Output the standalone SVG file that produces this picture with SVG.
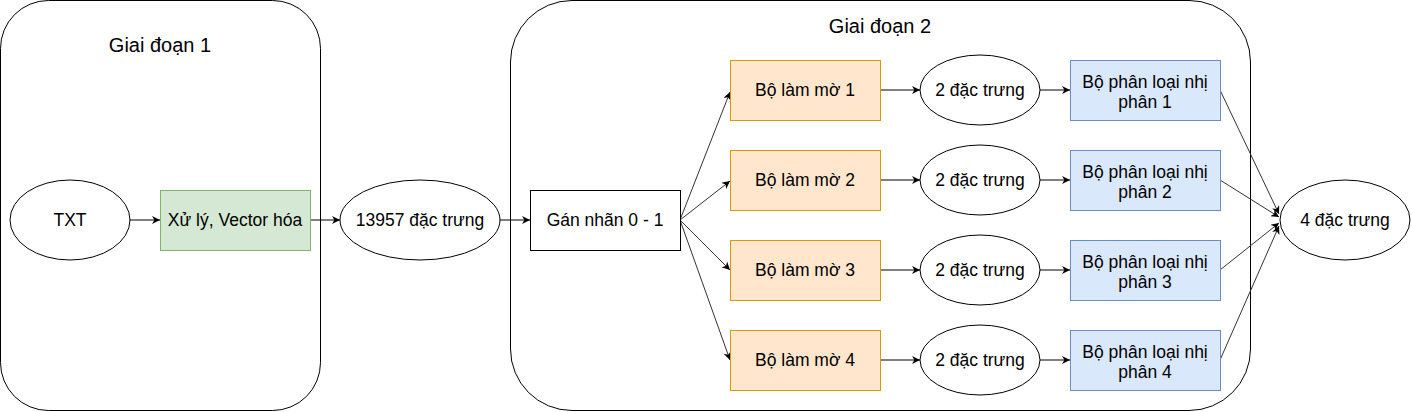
<svg xmlns="http://www.w3.org/2000/svg" width="1412" height="412" viewBox="0 0 1412 412">
<style>
  text { font-family: "Liberation Sans", Arial, sans-serif; fill: #000; text-anchor: middle; }
  .t { font-size: 17.5px; }
  .title { font-size: 20px; }
  .plain { fill: #fff; stroke: #000; stroke-width: 1; }
  .green { fill: #d5e8d4; stroke: #82b366; stroke-width: 1; }
  .orange { fill: #ffe6cc; stroke: #d79b00; stroke-width: 1; }
  .blue { fill: #dae8fc; stroke: #6c8ebf; stroke-width: 1; }
  .edge { fill: none; stroke: #000; stroke-width: 1; marker-end: url(#arrow); }
  .edge2 { fill: none; stroke: #333; stroke-width: 1; marker-end: url(#arrow); }
</style>
<defs>
  <marker id="arrow" viewBox="0 0 10 10" refX="10" refY="5" markerUnits="userSpaceOnUse" markerWidth="9" markerHeight="8" orient="auto">
    <path d="M0,0 L10,5 L0,10 L3,5 z" fill="#000"/>
  </marker>
</defs>
<rect width="1412" height="412" fill="#fff"/>
<g id="stage1">
  <rect x="0.5" y="0.5" width="320" height="410" rx="48" ry="48" class="plain"/>
  <text x="160" y="52" class="title">Giai đoạn 1</text>
</g>
<g id="stage2">
  <rect x="510.5" y="0.5" width="740" height="410" rx="61.5" ry="61.5" class="plain"/>
  <text x="880" y="33" class="title">Giai đoạn 2</text>
</g>
<g id="connectors">
  <path class="edge" d="M130,220 L160,220"/>
  <path class="edge" d="M310,220 L340,220"/>
  <path class="edge" d="M500,220 L530,220"/>
  <path class="edge2" d="M680,220 L730,92"/>
  <path class="edge2" d="M680,220 L730,181"/>
  <path class="edge2" d="M680,220 L730,270"/>
  <path class="edge2" d="M680,220 L730,360"/>
  <path class="edge" d="M880,90 L920,90"/>
  <path class="edge" d="M880,180 L920,180"/>
  <path class="edge" d="M880,270 L920,270"/>
  <path class="edge" d="M880,360 L920,360"/>
  <path class="edge" d="M1040,90 L1070,90"/>
  <path class="edge" d="M1040,180 L1070,180"/>
  <path class="edge" d="M1040,270 L1070,270"/>
  <path class="edge" d="M1040,360 L1070,360"/>
  <path class="edge2" d="M1220,90 L1279,214"/>
  <path class="edge2" d="M1220,180 L1279,217"/>
  <path class="edge2" d="M1220,270 L1279,223"/>
  <path class="edge2" d="M1220,360 L1279,226"/>
</g>
<g id="txt">
  <ellipse cx="70" cy="220" rx="60" ry="40" class="plain"/>
  <text x="70" y="226" class="t">TXT</text>
</g>
<g id="vectorize">
  <rect x="160.5" y="190.5" width="150" height="60" class="green"/>
  <text x="235" y="226" class="t">Xử lý, Vector hóa</text>
</g>
<g id="features13957">
  <ellipse cx="420" cy="220" rx="80" ry="40" class="plain"/>
  <text x="420" y="226" class="t">13957 đặc trưng</text>
</g>
<g id="label01">
  <rect x="530.5" y="190.5" width="150" height="60" class="plain"/>
  <text x="605" y="226" class="t">Gán nhãn 0 - 1</text>
</g>
<g id="blur1">
  <rect x="730.5" y="60.5" width="150" height="60" class="orange"/>
  <text x="805" y="96" class="t">Bộ làm mờ 1</text>
</g>
<g id="blur2">
  <rect x="730.5" y="150.5" width="150" height="60" class="orange"/>
  <text x="805" y="186" class="t">Bộ làm mờ 2</text>
</g>
<g id="blur3">
  <rect x="730.5" y="240.5" width="150" height="60" class="orange"/>
  <text x="805" y="276" class="t">Bộ làm mờ 3</text>
</g>
<g id="blur4">
  <rect x="730.5" y="330.5" width="150" height="60" class="orange"/>
  <text x="805" y="366" class="t">Bộ làm mờ 4</text>
</g>
<g id="feat1">
  <ellipse cx="980" cy="90" rx="60" ry="35" class="plain"/>
  <text x="980" y="96" class="t">2 đặc trưng</text>
</g>
<g id="feat2">
  <ellipse cx="980" cy="180" rx="60" ry="35" class="plain"/>
  <text x="980" y="186" class="t">2 đặc trưng</text>
</g>
<g id="feat3">
  <ellipse cx="980" cy="270" rx="60" ry="35" class="plain"/>
  <text x="980" y="276" class="t">2 đặc trưng</text>
</g>
<g id="feat4">
  <ellipse cx="980" cy="360" rx="60" ry="35" class="plain"/>
  <text x="980" y="366" class="t">2 đặc trưng</text>
</g>
<g id="clf1">
  <rect x="1070.5" y="60.5" width="150" height="60" class="blue"/>
  <text x="1145" y="88" class="t">Bộ phân loại nhị</text>
  <text x="1145" y="108" class="t">phân 1</text>
</g>
<g id="clf2">
  <rect x="1070.5" y="150.5" width="150" height="60" class="blue"/>
  <text x="1145" y="178" class="t">Bộ phân loại nhị</text>
  <text x="1145" y="198" class="t">phân 2</text>
</g>
<g id="clf3">
  <rect x="1070.5" y="240.5" width="150" height="60" class="blue"/>
  <text x="1145" y="268" class="t">Bộ phân loại nhị</text>
  <text x="1145" y="288" class="t">phân 3</text>
</g>
<g id="clf4">
  <rect x="1070.5" y="330.5" width="150" height="60" class="blue"/>
  <text x="1145" y="358" class="t">Bộ phân loại nhị</text>
  <text x="1145" y="378" class="t">phân 4</text>
</g>
<g id="features4">
  <ellipse cx="1345" cy="220" rx="65" ry="40" class="plain"/>
  <text x="1345" y="226" class="t">4 đặc trưng</text>
</g>
</svg>
